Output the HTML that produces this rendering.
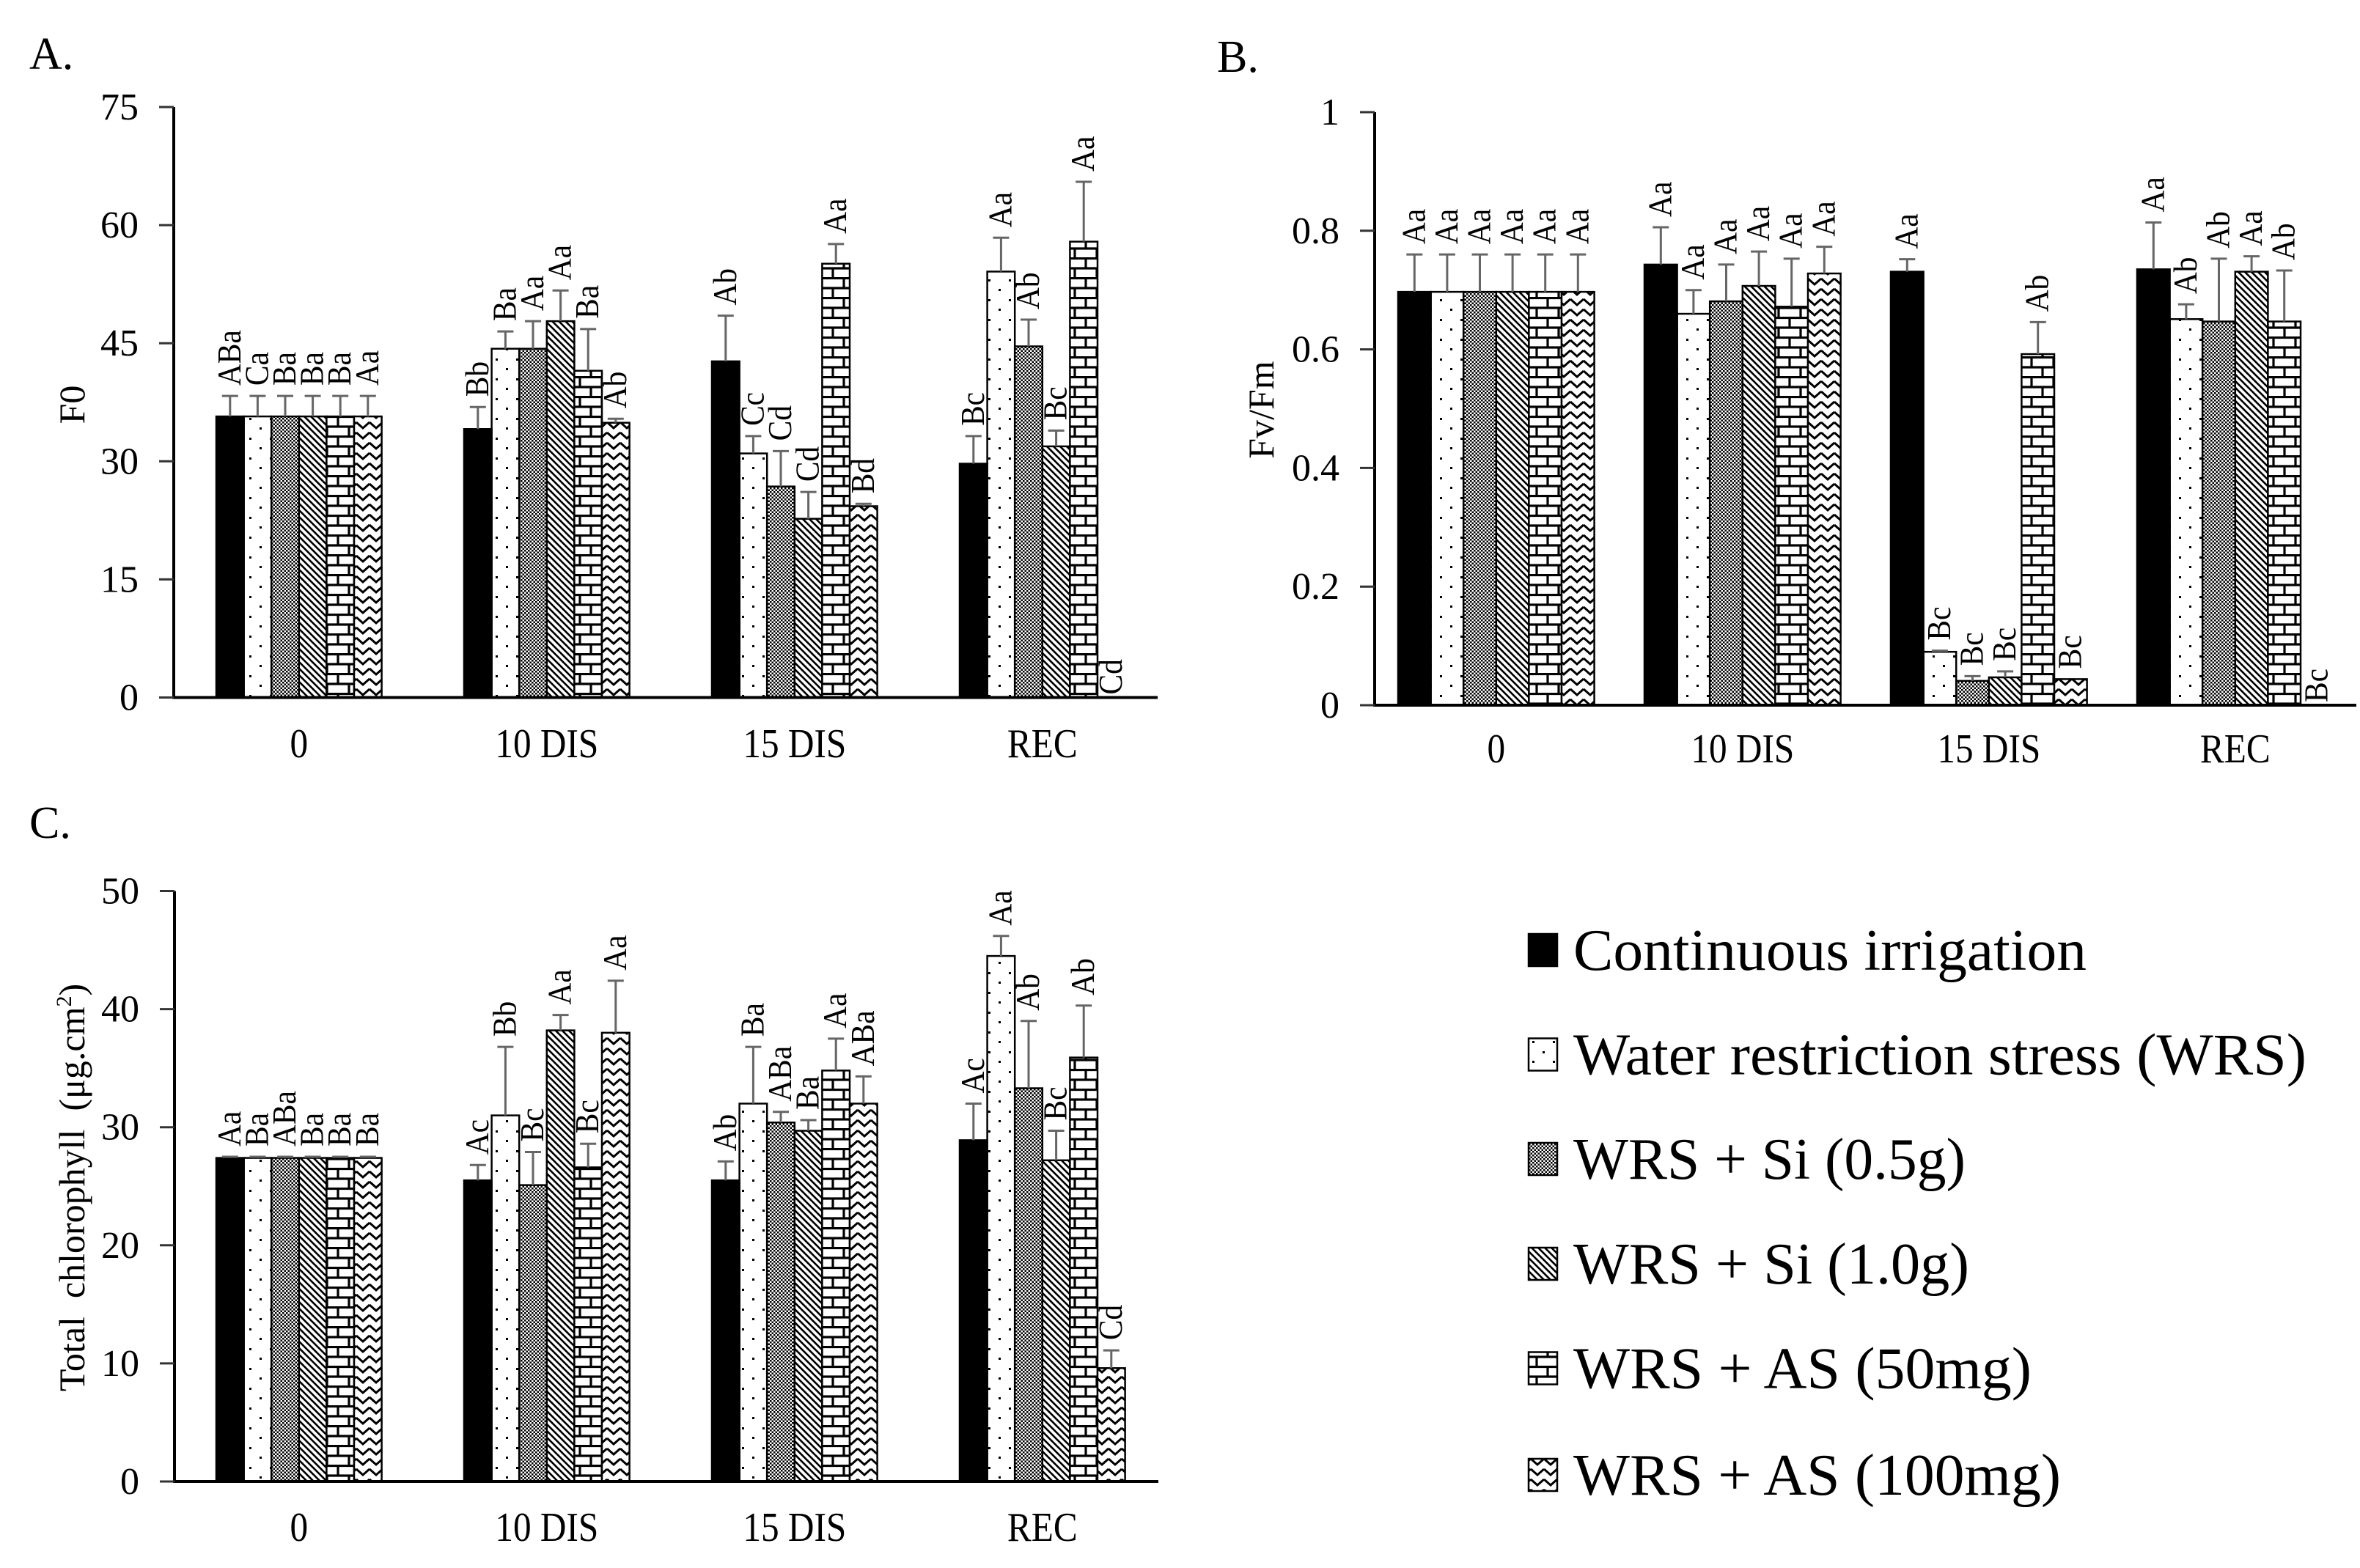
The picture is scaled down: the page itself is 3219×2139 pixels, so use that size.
<!DOCTYPE html>
<html><head><meta charset="utf-8"><style>
html,body{margin:0;padding:0;background:#fff;}
svg{display:block;}
text{font-family:"Liberation Serif",serif;fill:#000;}
</style></head><body>
<svg id="fig" width="3219" height="2139" viewBox="0 0 3219 2139" xmlns="http://www.w3.org/2000/svg">
<defs>
<pattern id="p-dots" patternUnits="userSpaceOnUse" width="28" height="27"><rect x="4" y="3" width="3" height="3" fill="#000"/><rect x="18" y="16" width="3" height="3" fill="#000"/></pattern>
<pattern id="p-check" patternUnits="userSpaceOnUse" width="5" height="5"><rect width="5" height="5" fill="#fff"/><rect width="2.5" height="2.5" fill="#000"/><rect x="2.5" y="2.5" width="2.5" height="2.5" fill="#000"/></pattern>
<pattern id="p-diag" patternUnits="userSpaceOnUse" width="9" height="9"><rect width="9" height="9" fill="#fff"/><path d="M-2,-2 L11,11 M-2,7 L2,11 M7,-2 L11,2" stroke="#000" stroke-width="2.6"/></pattern>
<pattern id="p-brick" patternUnits="userSpaceOnUse" width="30" height="27"><rect width="30" height="27" fill="#fff"/><path d="M0,1.5 H30 M0,15 H30 M11,0 V15 M26,15 V27" stroke="#000" stroke-width="3.2"/></pattern>
<pattern id="p-zig" patternUnits="userSpaceOnUse" width="18" height="14"><rect width="18" height="14" fill="#fff"/><path d="M0,2 L9,10 L18,2" stroke="#000" stroke-width="3" fill="none"/></pattern>
</defs>
<g id="root"></g>
</svg>
<script>
// ---- data ----
const categories = ["0","10 DIS","15 DIS","REC"];
const seriesNames = ["Continuous irrigation","Water restriction stress (WRS)","WRS + Si (0.5g)","WRS + Si (1.0g)","WRS + AS (50mg)","WRS + AS (100mg)"];
// Panel A: F0 (rows = category, cols = series)
const aValues = [[35.7,35.7,35.7,35.7,35.7,35.7],[34.1,44.3,44.3,47.8,41.5,34.9],[42.7,31.0,26.8,22.7,55.1,24.3],[29.7,54.1,44.6,31.9,57.9,0]];
const aErrTop = [[38.3,38.3,38.3,38.3,38.3,38.3],[36.9,46.5,47.8,51.7,46.8,35.4],[48.5,33.2,31.3,26.1,57.6,24.6],[33.2,58.4,48.0,33.9,65.5,0]];
const aLetters = [["ABa","Ca","Ba","Ba","Ba","Aa"],["Bb","Ba","Aa","Aa","Ba","Ab"],["Ab","Cc","Cd","Cd","Aa","Bd"],["Bc","Aa","Ab","Bc","Aa","Cd"]];
const aTicks = ["0","15","30","45","60","75"];
// Panel B: Fv/Fm
const bValues = [[0.697,0.697,0.697,0.697,0.697,0.697],[0.743,0.660,0.681,0.707,0.672,0.728],[0.731,0.090,0.041,0.047,0.592,0.044],[0.735,0.651,0.647,0.731,0.647,0]];
const bErrTop = [[0.760,0.760,0.760,0.760,0.760,0.760],[0.806,0.700,0.743,0.765,0.753,0.773],[0.752,0.092,0.049,0.057,0.646,0.044],[0.814,0.676,0.753,0.757,0.733,0]];
const bLetters = [["Aa","Aa","Aa","Aa","Aa","Aa"],["Aa","Aa","Aa","Aa","Aa","Aa"],["Aa","Bc","Bc","Bc","Ab","Bc"],["Aa","Ab","Ab","Aa","Ab","Bc"]];
const bTicks = ["0","0.2","0.4","0.6","0.8","1"];
// Panel C: Total chlorophyll
const cValues = [[27.4,27.4,27.4,27.4,27.4,27.4],[25.5,31.0,25.1,38.2,26.6,38.0],[25.5,32.0,30.4,29.7,34.8,32.0],[28.9,44.5,33.3,27.2,35.9,9.6]];
const cErrTop = [[27.5,27.5,27.5,27.5,27.5,27.5],[26.8,36.8,27.9,39.5,28.6,42.4],[27.1,36.8,31.3,30.6,37.5,34.3],[32.0,46.2,39.0,29.7,40.3,11.1]];
const cLetters = [["Aa","Ba","ABa","Ba","Ba","Ba"],["Ac","Bb","Bc","Aa","Bc","Aa"],["Ab","Ba","ABa","Ba","Aa","ABa"],["Ac","Aa","Ab","Bc","Ab","Cd"]];
const cTicks = ["0","10","20","30","40","50"];

const fills = ["#000","url(#p-dots)","url(#p-check)","url(#p-diag)","url(#p-brick)","url(#p-zig)"];
const NS = "http://www.w3.org/2000/svg";
const root = document.getElementById('root');
function mk(tag, attrs, parent){const e=document.createElementNS(NS,tag);for(const k in attrs)e.setAttribute(k,attrs[k]);(parent||root).appendChild(e);return e;}

function panel(o){
  const g = mk('g',{});
  
  
  const maxV = parseFloat(o.ticks[o.ticks.length-1]);
  const y = v => o.yBase - v/maxV*(o.yBase-o.yTop);
  const x = (ci,si) => o.gStart + ci*o.step + si*o.bw;
  o.values.forEach((row,ci)=>row.forEach((v,si)=>{
    if(v>0){
      const r = mk('rect',{x:x(ci,si),y:y(v),width:o.bw,height:o.yBase-y(v),fill:fills[si],stroke:'#000','stroke-width':2.5},g);
      
      
    }
    const cx = x(ci,si)+o.bw/2;
    const et = o.err[ci][si];
    if(et>v){
      const eb = mk('path',{d:`M${cx},${y(v)} V${y(et)} M${cx-11},${y(et)} H${cx+11}`,stroke:'#666','stroke-width':3,fill:'none'},g);
      
      
    }
    const ly = (et>0? y(et)-14 : o.yBase-4);
    const t = mk('text',{transform:`translate(${cx+14},${ly}) rotate(-90) scale(0.9,1)`,'font-size':46},g);
    t.textContent = o.letters[ci][si];
    
    
  }));
  const ax = mk('path',{d:`M${o.x0},${o.yTop} V${o.yBase} M${o.x0-2},${o.yBase} H${o.xEnd}`,stroke:'#000','stroke-width':4,fill:'none'},g);
  
  
  o.ticks.forEach(tk=>{
    const ty = y(parseFloat(tk));
    mk('line',{x1:o.x0-20,x2:o.x0,y1:ty,y2:ty,stroke:'#333','stroke-width':3},g);
    const tl = mk('text',{x:o.x0-48,y:ty+17,'text-anchor':'end','font-size':52},g);
    tl.textContent = tk;
    
    
  });
  categories.forEach((c,ci)=>{
    const cx = o.gStart + ci*o.step + o.bw*3;
    const cl = mk('text',{transform:`translate(${cx},${o.catY}) scale(0.88,1)`,'text-anchor':'middle','font-size':56},g);
    cl.textContent = c;
    
    
  });
  const yt = mk('text',{transform:`translate(${o.titleX},${o.titleY}) rotate(-90)`,'text-anchor':'middle','font-size':50},g);
  if(o.titleLen) yt.setAttribute('textLength', o.titleLen);
  yt.innerHTML = o.title;
  
  
  const pl = mk('text',{x:o.lx,y:o.ly,'font-size':62},g);
  pl.textContent = o.label;
  
  
}

panel({name:'panel-a-f0',values:aValues,err:aErrTop,letters:aLetters,ticks:aTicks,x0:237,yTop:146,yBase:951.5,xEnd:1579,gStart:295,step:338,bw:37.6,catY:1033,title:'F0',titleX:115,titleY:552,label:'A.',lx:40,ly:94});
panel({name:'panel-b-fvfm',values:bValues,err:bErrTop,letters:bLetters,ticks:bTicks,x0:1875,yTop:153,yBase:962,xEnd:3214,gStart:1907,step:336,bw:44.6,catY:1040,title:'Fv/Fm',titleX:1737,titleY:559,label:'B.',lx:1660,ly:98});
panel({name:'panel-c-chlorophyll',values:cValues,err:cErrTop,letters:cLetters,ticks:cTicks,x0:238,yTop:1215.5,yBase:2021,xEnd:1580,gStart:295,step:338,bw:37.6,catY:2102,title:'Total&#160;&#160;chlorophyll&#160;&#160;(μg.cm<tspan dy="-18" font-size="30">2</tspan><tspan dy="18">)</tspan>',titleX:115,titleY:1620,label:'C.',lx:40,ly:1143});

const legendRowsY = [1296,1438.5,1581,1724,1866.5,2012];
const legendTextLen = [700,1000,535,540,625,665];
const lg = mk('g',{});


seriesNames.forEach((n,i)=>{
  const e = mk('g',{},lg);
  
  
  mk('rect',{x:2085,y:legendRowsY[i]-22,width:39,height:44,fill:fills[i],stroke:'#000','stroke-width':2.5},e);
  const t = mk('text',{x:2146,y:legendRowsY[i]+27,'font-size':80,textLength:legendTextLen[i],lengthAdjust:'spacingAndGlyphs'},e);
  t.textContent = n;
});
</script>
</body></html>
